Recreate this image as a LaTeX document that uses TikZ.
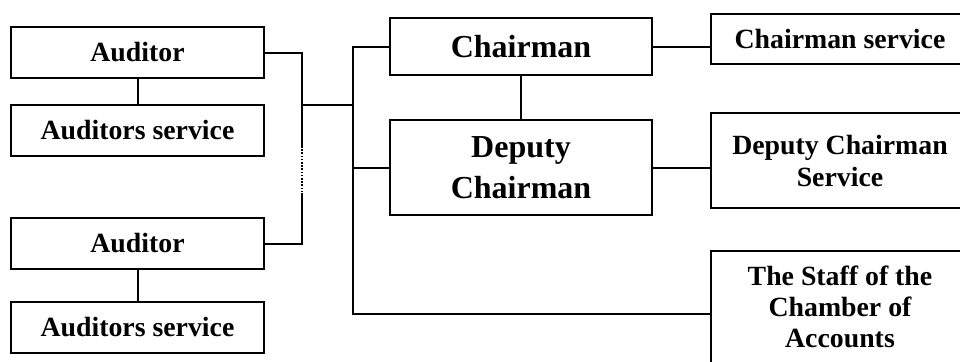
\documentclass[tikz,border=0pt]{standalone}
\usepackage{fontspec}
\setmainfont{Liberation Serif}
\usepackage{tikz}
\usetikzlibrary{positioning,calc}
\tikzset{
  box/.style={draw, line width=1pt, inner sep=0pt, align=center, fill=white,
    font=\fontsize{13.9}{15.5}\selectfont\bfseries},
  audn/.style={box, minimum width=126.5pt, minimum height=25.5pt},
  headn/.style={box, minimum width=131pt, font=\fontsize{16}{20.5}\selectfont\bfseries},
  srvn/.style={box, minimum width=129pt},
  link/.style={line width=1pt},
  gapline/.style={line width=1pt, dash pattern=on 0.8pt off 0.8pt},
}

\begin{document}
\begin{tikzpicture}[x=0.5pt,y=-0.5pt]
\useasboundingbox (0,0) rectangle (960,361);
\node[audn] (aud1) at (137.5,52.5) {Auditor};
\node[audn] (audsrv1) at (137.5,130) {Auditors service};
\node[audn] (aud2) at (137.5,243.5) {Auditor};
\node[audn] (audsrv2) at (137.5,327.5) {Auditors service};
\node[headn, minimum height=28.5pt] (chair) at (521,46.5) {Chairman};
\node[headn, minimum height=47.5pt] (deputy) at (521,167.5) {Deputy\\Chairman};
\node[srvn, minimum height=25pt] (chairsrv) at (840,39) {Chairman service};
\node[srvn, minimum height=47.5pt, font=\fontsize{13.9}{16}\selectfont\bfseries] (depsrv) at (840,160.5) {Deputy Chairman\\Service};
\node[srvn, minimum height=56pt] (staff) at (840,307) {The Staff of the\\Chamber of\\Accounts};
\coordinate (tTop) at (353,46.5);
\coordinate (tBot) at (353,314);
\coordinate (brJ) at (302,105);
\coordinate (gapT) at (302,146);
\coordinate (gapB) at (302,193);
\draw[link] (aud1) -- (audsrv1);
\draw[link] (aud2) -- (audsrv2);
\draw[link] (chair) -- (deputy);
\draw[link] (chair.east) -- (chair.east -| chairsrv.west);
\draw[link] (deputy.east) -- (deputy.east -| depsrv.west);
\draw[link] (chair.west) -- (tTop) -- (tBot) -- (tBot -| staff.west);
\draw[link] (deputy.west -| tTop) -- (deputy.west);
\draw[link] (brJ) -- (brJ -| tTop);
\draw[link] (aud1.east) -| (gapT);
\draw[gapline] (gapT) -- (gapB);
\draw[link] (gapB) |- (aud2.east);
\end{tikzpicture}
\end{document}
